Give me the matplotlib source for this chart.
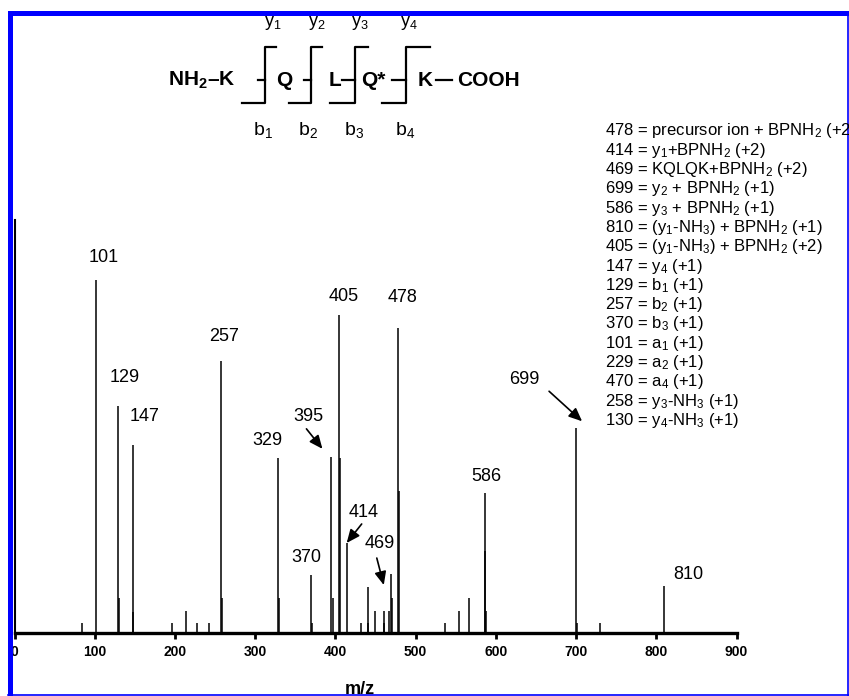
import numpy as np
import matplotlib
matplotlib.use("Agg")
import matplotlib.pyplot as plt
from matplotlib.lines import Line2D
from matplotlib.patches import Rectangle

plt.rcParams['font.family'] = ['Liberation Sans', 'DejaVu Sans']
plt.rcParams['mathtext.fontset'] = 'custom'
plt.rcParams['mathtext.rm'] = 'Liberation Sans'
plt.rcParams['mathtext.bf'] = 'Liberation Sans:bold'
plt.rcParams['mathtext.default'] = 'regular'

# peak list: m/z and relative intensity (%)
mz = [84, 101, 129, 130, 147, 148, 196, 214, 227, 242, 257, 258, 329, 330,
      370, 371, 395, 397, 405, 406, 414, 432, 440, 441, 449, 460, 461, 467,
      469, 471, 478, 479, 536, 554, 567, 586, 587, 588, 700, 701, 730, 810]
intensity = [2.8, 100, 64.3, 9.9, 53.3, 5.9, 2.8, 6.2, 2.8, 2.8, 77.1, 9.9, 49.6, 9.9,
             16.4, 2.8, 49.9, 9.9, 90.1, 49.6, 25.5, 2.8, 13.0, 2.8, 6.2, 6.2, 2.8, 6.2,
             16.7, 9.9, 86.4, 40.2, 2.8, 6.2, 9.9, 39.7, 23.2, 6.2, 58.0, 2.8, 2.8, 13.3]

# labelled peaks: (label, m/z of the peak, text offset in px (dx, up))
plain_labels = [("101", 101, 8, 23), ("129", 129, 7, 29), ("147", 147, 12, 28),
                ("257", 257, 3, 24), ("329", 329, -11, 17), ("370", 370, -5, 18),
                ("405", 405, 4, 18), ("478", 478, 5, 31), ("586", 586, 2, 16),
                ("810", 810, 24, 12)]
# arrow labels: (label, peak m/z, text offset px, arrow start offset px, arrow tip offset px)
arrow_labels = [("395", 395, (-23, 40), (-25, 28), (-9, 8)),
                ("414", 414, (17, 30), (15, 19), (0, 0)),
                ("469", 469, (-11, 31), (-14, 16), (-7, -11)),
                ("699", 700, (-52, 49), (-27, 37), (6, 7))]

legend_lines = [
    r"478 = precursor ion + BPNH$_2$ (+2)",
    r"414 = y$_1$+BPNH$_2$ (+2)",
    r"469 = KQLQK+BPNH$_2$ (+2)",
    r"699 = y$_2$ + BPNH$_2$ (+1)",
    r"586 = y$_3$ + BPNH$_2$ (+1)",
    r"810 = (y$_1$-NH$_3$) + BPNH$_2$ (+1)",
    r"405 = (y$_1$-NH$_3$) + BPNH$_2$ (+2)",
    r"147 = y$_4$ (+1)",
    r"129 = b$_1$ (+1)",
    r"257 = b$_2$ (+1)",
    r"370 = b$_3$ (+1)",
    r"101 = a$_1$ (+1)",
    r"229 = a$_2$ (+1)",
    r"470 = a$_4$ (+1)",
    r"258 = y$_3$-NH$_3$ (+1)",
    r"130 = y$_4$-NH$_3$ (+1)",
]

W, H = 849, 696


def fx(p):
    return p / W


def fy(p):
    return 1 - p / H


fig = plt.figure(figsize=(W / 100, H / 100), dpi=100)
ax = fig.add_axes([fx(14.6), fy(633), fx(736.5) - fx(14.6), (633 - 220) / H])
ymax = 117.0
ax.set_xlim(0, 900)
ax.set_ylim(0, ymax)
ax.vlines(mz, 0, intensity, color='k', lw=1.1)

ax.spines['top'].set_visible(False)
ax.spines['right'].set_visible(False)
ax.spines['bottom'].set_linewidth(2.4)
ax.spines['left'].set_linewidth(1.5)
ax.set_yticks([])
ax.set_xticks(np.arange(0, 901, 100))
ax.tick_params(axis='x', direction='out', length=4, width=2, pad=5)
for t in ax.get_xticklabels():
    t.set_family(['Liberation Sans Narrow', 'Liberation Sans'])
    t.set_fontweight('bold')
    t.set_fontsize(10)

# px -> data helpers
sx = 900 / (736.5 - 14.6)
sy = ymax / (633 - 220)
peak = dict(zip(mz, intensity))

for lab, m, dx, up in plain_labels:
    ax.text(m + dx * sx, peak[m] + up * sy, lab, ha='center', va='center', fontsize=13)

for lab, m, txt, start, tip in arrow_labels:
    h = peak[m]
    ax.text(m + txt[0] * sx, h + txt[1] * sy, lab, ha='center', va='center', fontsize=13)
    ax.annotate('', xy=(m + tip[0] * sx, h + tip[1] * sy),
                xytext=(m + start[0] * sx, h + start[1] * sy),
                arrowprops=dict(arrowstyle='-|>,head_length=0.8,head_width=0.35',
                                color='k', lw=1.2, shrinkA=0, shrinkB=0))

# legend text block
for i, s in enumerate(legend_lines):
    fig.text(fx(605), fy(131 + i * 19.3), s, ha='left', va='center', fontsize=12)

fig.text(fx(360), fy(681), 'm/z', ha='center', va='top', fontsize=13, fontweight='bold')

# peptide sequence sketch
fig.text(fx(168), fy(80), r"$\mathbf{NH_2}$" + "\u2013K", ha='left', va='center',
         fontsize=15, fontweight='bold')
residues = [("Q", 284), ("L", 335), ("Q*", 373), ("K", 425.5)]
for r, x in residues:
    fig.text(fx(x), fy(80), r, ha='center', va='center', fontsize=15, fontweight='bold')
fig.text(fx(457), fy(80), "COOH", ha='left', va='center', fontsize=15, fontweight='bold')

cut_x = [265, 311, 355, 406]
top_len = [11, 11, 13, 24]
bot_len = [23, 22, 25, 24]
dash_len = [7, 7, 13, 14]
for i, x in enumerate(cut_x):
    xs = [x - bot_len[i], x, x, x + top_len[i]]
    ys = [103, 103, 47, 47]
    fig.add_artist(Line2D([fx(v) for v in xs], [fy(v) for v in ys], color='k', lw=1.6))
    fig.add_artist(Line2D([fx(x - dash_len[i]), fx(x)], [fy(80), fy(80)], color='k', lw=1.6))
fig.add_artist(Line2D([fx(436), fx(452)], [fy(80), fy(80)], color='k', lw=1.6))

y_pos = [273, 317, 360, 409]
b_pos = [263, 308, 354, 405]
for i in range(4):
    fig.text(fx(y_pos[i]), fy(23), "y$_%d$" % (i + 1), ha='center', va='center', fontsize=13)
    fig.text(fx(b_pos[i]), fy(130), "b$_%d$" % (i + 1), ha='center', va='center', fontsize=14)

# blue frame
blue = '#0000ff'
fig.add_artist(Rectangle((fx(8), 0), fx(5), fy(11.5), color=blue, lw=0))
fig.add_artist(Rectangle((fx(8), fy(15.5)), fx(849 - 8), 4 / H, color=blue, lw=0))
fig.add_artist(Line2D([fx(847.5), fx(847.5)], [fy(15), 0], color=blue, lw=1.2))
fig.add_artist(Line2D([fx(8), 1], [fy(695), fy(695)], color=blue, lw=1.2))

fig.savefig('out.png', dpi=100)
